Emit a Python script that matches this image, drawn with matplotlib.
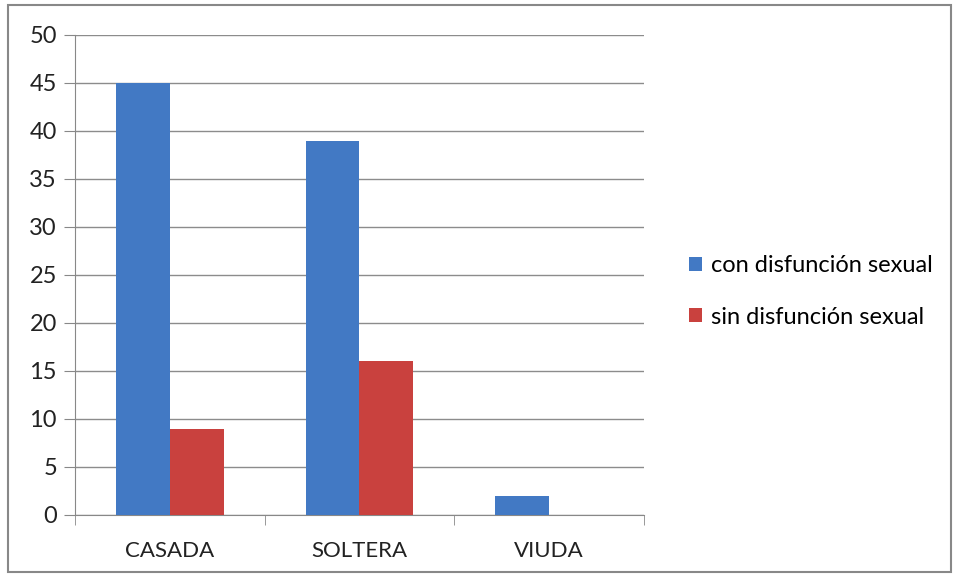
import numpy as np
import matplotlib
matplotlib.use("Agg")
import matplotlib.pyplot as plt
from matplotlib.patches import Rectangle

plt.rcParams['font.family'] = ['Lato', 'DejaVu Sans']

categories = ['CASADA', 'SOLTERA', 'VIUDA']
con_disfuncion = [45, 39, 2]
sin_disfuncion = [9, 16, 0]

fig = plt.figure(figsize=(9.56, 5.77), dpi=100)
ax = fig.add_axes([0.0785, 0.1075, 0.595, 0.832])

x = np.arange(len(categories))
w = 0.284
ax.bar(x - w / 2, con_disfuncion, w, color='#4279C4', label='con disfunción sexual', zorder=3)
ax.bar(x + w / 2, sin_disfuncion, w, color='#C9413E', label='sin disfunción sexual', zorder=3)

ax.set_xlim(-0.5, 2.5)
ax.set_ylim(0, 50)
ax.set_yticks(range(0, 51, 5))
ax.set_xticks(x)
ax.set_xticklabels(categories)
ax.set_xticks([-0.5, 0.5, 1.5, 2.5], minor=True)
ax.tick_params(axis='x', which='major', length=0, pad=19, labelsize=16, colors='#222222')
ax.tick_params(axis='x', which='minor', length=7, color='#888888', direction='out')
ax.tick_params(axis='y', length=8, color='#888888', labelsize=17, pad=5, labelcolor='#222222')

ax.grid(axis='y', color='#8c8c8c', linewidth=1, zorder=0)
for s in ['top', 'right']:
    ax.spines[s].set_visible(False)
ax.spines['left'].set_color('#888888')
ax.spines['bottom'].set_color('#888888')

leg = fig.legend(loc='center left', bbox_to_anchor=(0.699, 0.495), frameon=False,
                 fontsize=17, handlelength=0.55, handleheight=0.55, handletextpad=0.35,
                 labelspacing=1.3)

fig.patches.append(Rectangle((0.008, 0.009), 0.987, 0.982, transform=fig.transFigure,
                             fill=False, edgecolor='#888888', linewidth=1.5))

fig.savefig('out.png', dpi=100)
